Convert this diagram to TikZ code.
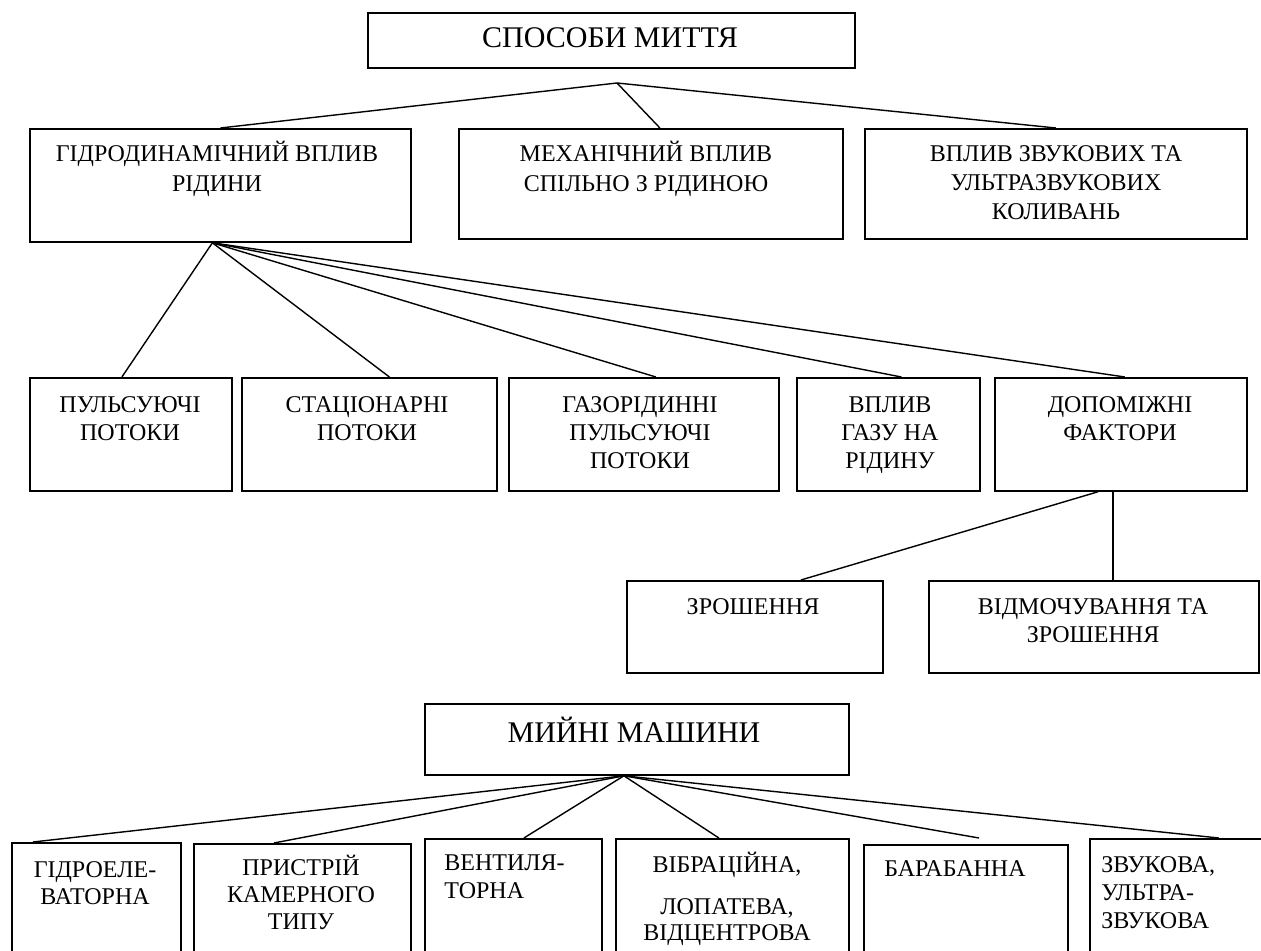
\documentclass[tikz,border=0pt]{standalone}
\usepackage{fontspec}
\setmainfont{Liberation Serif}
\tikzset{
  box/.style={draw, line width=0.9pt, inner sep=0pt, anchor=north west},
  txt/.style={inner sep=0pt, anchor=base, align=center, font=\fontsize{12}{14}\selectfont},
  big/.style={txt, font=\fontsize{15}{17}\selectfont},
  link/.style={line width=0.7pt}
}
\begin{document}
\begin{tikzpicture}[x=0.5pt, y=-0.5pt]
      \useasboundingbox (0,0) rectangle (1261,951);
      % boxes
      \node[box, minimum width=243.5pt, minimum height=27.5pt] (sposoby) at (367,12) {};
      \node[box, minimum width=190.5pt, minimum height=56.5pt] (gidro) at (29,128) {};
      \node[box, minimum width=192pt, minimum height=55pt] (meh) at (458,128) {};
      \node[box, minimum width=191pt, minimum height=55pt] (zvuk) at (864,128) {};
      \node[box, minimum width=101pt, minimum height=56.5pt] (puls) at (29,377) {};
      \node[box, minimum width=127.5pt, minimum height=56.5pt] (stac) at (241,377) {};
      \node[box, minimum width=135pt, minimum height=56.5pt] (gazor) at (508,377) {};
      \node[box, minimum width=91.5pt, minimum height=56.5pt] (gaz) at (796,377) {};
      \node[box, minimum width=126pt, minimum height=56.5pt] (dop) at (994,377) {};
      \node[box, minimum width=128pt, minimum height=46pt] (zrosh) at (626,580) {};
      \node[box, minimum width=165pt, minimum height=46pt] (vidm) at (928,580) {};
      \node[box, minimum width=212pt, minimum height=35.5pt] (mashyny) at (424,703) {};
      \node[box, minimum width=84.5pt, minimum height=59pt] (gidroel) at (11,842) {};
      \node[box, minimum width=108.5pt, minimum height=58.5pt] (prystr) at (193,843) {};
      \node[box, minimum width=88.5pt, minimum height=61pt] (vent) at (424,838) {};
      \node[box, minimum width=116.5pt, minimum height=61pt] (vibr) at (615,838) {};
      \node[box, minimum width=102pt, minimum height=58pt] (baraban) at (863,844) {};
      \node[box, minimum width=90.5pt, minimum height=61pt] (zvukova) at (1089,838) {};
      % texts (anchored on the baseline of the last line)
      \node[big] (sposobyt) at (610,48) {СПОСОБИ МИТТЯ};
      \node[txt, font=\fontsize{12}{15}\selectfont] (gidrot) at (217,192) {ГІДРОДИНАМІЧНИЙ ВПЛИВ\\РІДИНИ};
      \node[txt, font=\fontsize{12}{15}\selectfont] (meht) at (646,192) {МЕХАНІЧНИЙ ВПЛИВ\\СПІЛЬНО З РІДИНОЮ};
      \node[txt, font=\fontsize{12}{14.5}\selectfont] (zvukt) at (1056,220) {ВПЛИВ ЗВУКОВИХ ТА\\УЛЬТРАЗВУКОВИХ\\КОЛИВАНЬ};
      \node[txt] (pulst) at (130,440) {ПУЛЬСУЮЧІ\\ПОТОКИ};
      \node[txt] (stact) at (367,440) {СТАЦІОНАРНІ\\ПОТОКИ};
      \node[txt] (gazort) at (640,468) {ГАЗОРІДИННІ\\ПУЛЬСУЮЧІ\\ПОТОКИ};
      \node[txt] (gazt) at (890,468) {ВПЛИВ\\ГАЗУ НА\\РІДИНУ};
      \node[txt] (dopt) at (1120,440) {ДОПОМІЖНІ\\ФАКТОРИ};
      \node[txt] (zrosht) at (753,614) {ЗРОШЕННЯ};
      \node[txt] (vidmt) at (1093,642) {ВІДМОЧУВАННЯ ТА\\ЗРОШЕННЯ};
      \node[big] (mashynyt) at (634,742) {МИЙНІ МАШИНИ};
      \node[txt, font=\fontsize{12}{13.5}\selectfont] (gidroelt) at (95,904) {ГІДРОЕЛЕ-\\ВАТОРНА};
      \node[txt, font=\fontsize{12}{13.5}\selectfont] (prystrt) at (301,929) {ПРИСТРІЙ\\КАМЕРНОГО\\ТИПУ};
      \node[txt, anchor=base west, align=left] (ventt) at (444,898) {ВЕНТИЛЯ-\\ТОРНА};
      \node[txt, font=\fontsize{12}{13}\selectfont] (vibrt) at (727,940) {ВІБРАЦІЙНА,\\[8pt]ЛОПАТЕВА,\\ВІДЦЕНТРОВА};
      \node[txt, anchor=base west] (barabant) at (884,876) {БАРАБАННА};
      \node[txt, anchor=base west, align=left] (zvukovat) at (1101,928) {ЗВУКОВА,\\УЛЬТРА-\\ЗВУКОВА};
      % connectors
      \coordinate (sj) at (617,83);
      \coordinate (barend) at (979,838);
      \begin{scope}[link]
        \draw (sj) to (gidro.north);
        \draw (sj) to ([xshift=4.5pt]meh.north);
        \draw (sj) to (zvuk.north);
        \draw ([xshift=-4pt]gidro.south) to ([xshift=-4.5pt]puls.north);
        \draw ([xshift=-4pt]gidro.south) to ([xshift=10pt]stac.north);
        \draw ([xshift=-4pt]gidro.south) to ([xshift=6pt]gazor.north);
        \draw ([xshift=-4pt]gidro.south) to ([xshift=6.5pt]gaz.north);
        \draw ([xshift=-4pt]gidro.south) to ([xshift=2pt]dop.north);
        \draw ([xshift=-11.5pt]dop.south) to ([xshift=23pt]zrosh.north);
        \draw ([xshift=-4pt]dop.south) to ([xshift=9.5pt]vidm.north);
        \draw ([xshift=-6.5pt]mashyny.south) to ([xshift=-31.75pt]gidroel.north);
        \draw ([xshift=-6.5pt]mashyny.south) to ([xshift=-14.25pt]prystr.north);
        \draw ([xshift=-6.5pt]mashyny.south) to ([xshift=5.25pt]vent.north);
        \draw ([xshift=-6.5pt]mashyny.south) to ([xshift=-6.75pt]vibr.north);
        \draw ([xshift=-6.5pt]mashyny.south) to (barend);
        \draw ([xshift=-6.5pt]mashyny.south) to ([xshift=19.25pt]zvukova.north);
      \end{scope}
    \end{tikzpicture}
\end{document}
